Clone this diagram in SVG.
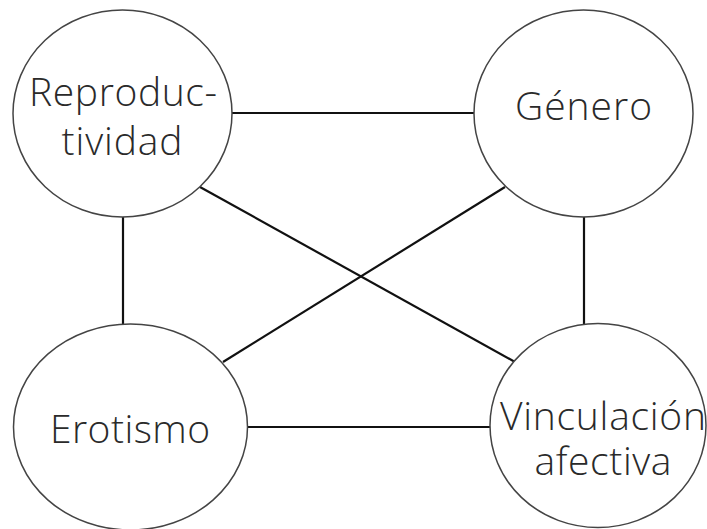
<svg xmlns="http://www.w3.org/2000/svg" width="707" height="529" viewBox="0 0 707 529">
<style>
.node ellipse{fill:#fff;stroke:#444;stroke-width:1.5}
.node text{font-family:"Open Sans","Noto Sans",sans-serif;font-weight:300;font-size:39px;fill:#2a2a2a;text-anchor:middle}
.edges line{stroke:#111;stroke-width:2.2}
</style>
<rect width="707" height="529" fill="#fff"/>
<g class="edges" id="connectors">
<line x1="232" y1="113" x2="474" y2="113"/>
<line x1="123" y1="216" x2="123" y2="324"/>
<line x1="584" y1="216" x2="584" y2="324"/>
<line x1="247" y1="427" x2="490" y2="427"/>
<line x1="200" y1="187" x2="515" y2="362"/>
<line x1="505" y1="187" x2="223" y2="362"/>
</g>
<g class="node" id="reproductividad">
<ellipse cx="122.5" cy="113.5" rx="109.5" ry="103.5"/>
<text x="123" y="106" textLength="188" lengthAdjust="spacing">Reproduc-</text>
<text x="122" y="155" textLength="121" lengthAdjust="spacing">tividad</text>
</g>
<g class="node" id="genero">
<ellipse cx="583.5" cy="113.5" rx="109.5" ry="103.5"/>
<text x="583.5" y="120" textLength="137" lengthAdjust="spacing">Género</text>
</g>
<g class="node" id="erotismo">
<ellipse cx="130.5" cy="427" rx="117" ry="103"/>
<text x="130" y="443" textLength="160" lengthAdjust="spacing">Erotismo</text>
</g>
<g class="node" id="vinculacion">
<ellipse cx="598" cy="425.5" rx="108" ry="102"/>
<text x="603" y="430" textLength="206" lengthAdjust="spacing">Vinculación</text>
<text x="603" y="475" textLength="137" lengthAdjust="spacing">afectiva</text>
</g>
</svg>
